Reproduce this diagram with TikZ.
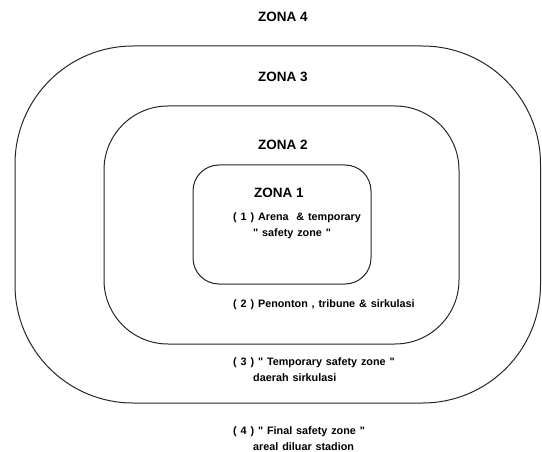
\documentclass[tikz,border=0pt]{standalone}
\usepackage{fontspec}
\setmainfont{Liberation Sans}
\newcommand{\dq}{\textquotedbl}
\newcommand{\descfont}{\bfseries\fontsize{10.8}{12}\selectfont\spaceskip=0.36em plus 0.1em\relax}
\begin{document}
\begin{tikzpicture}[x=1pt,y=-1pt,
  zone/.style={draw=black!85,line width=1pt},
  zlabel/.style={font=\bfseries\fontsize{13.5}{15}\selectfont,inner sep=0pt},
  desc/.style={font=\descfont,inner sep=0pt,anchor=west,align=left}]
\useasboundingbox[fill=white] (0,0) rectangle (542,452);
\draw[zone,rounded corners=118pt] (15,46) rectangle (540.5,403);
\draw[zone,rounded corners=64pt] (104,106) rectangle (459,344);
\draw[zone,rounded corners=26pt] (193,165) rectangle (371,284);
\node[zlabel] (z4) at (283,17) {ZONA 4};
\node[zlabel] (z3) at (283,77) {ZONA 3};
\node[zlabel] (z2) at (283,145) {ZONA 2};
\node[zlabel] (z1) at (279,193) {ZONA 1};
\node[desc] (d1a) at (233,218) {( 1 ) Arena\ \ \& temporary};
\node[desc] (d1b) at (253,234) {\dq\ safety zone\ \dq};
\node[desc] (d2) at (233,305) {( 2 ) Penonton , tribune \& sirkulasi};
\node[desc] (d3a) at (233,363) {( 3 ) \dq\ Temporary safety zone\ \dq};
\node[desc] (d3b) at (253,378) {daerah sirkulasi};
\node[desc] (d4a) at (233,432) {( 4 ) \dq\ Final safety zone\ \dq};
\node[desc] (d4b) at (253,447) {areal diluar stadion};
\end{tikzpicture}
\end{document}
